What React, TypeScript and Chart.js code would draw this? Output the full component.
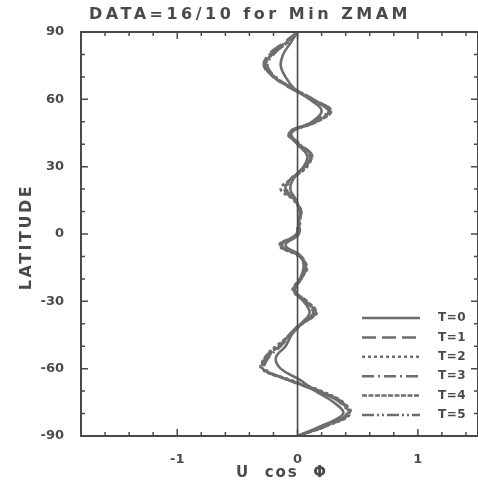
import React, { useEffect, useRef } from 'react';
import { Chart, registerables } from 'chart.js';

Chart.register(...registerables);

const latitudes = [90, 85, 80, 75, 70, 65, 60, 55, 50, 45, 40, 35, 30, 25, 20, 15, 10, 5, 0, -5, -10, -15, -20, -25, -30, -35, -40, -45, -50, -55, -60, -65, -70, -75, -80, -85, -90];

const t0 = [0, -0.06, -0.12, -0.14, -0.10, -0.03, 0.10, 0.20, 0.12, -0.05, 0.00, 0.08, 0.05, -0.03, -0.06, -0.01, 0.02, 0.01, 0.01, -0.10, 0.03, 0.05, 0.02, -0.02, 0.05, 0.10, 0.03, -0.05, -0.10, -0.18, -0.14, 0.02, 0.15, 0.30, 0.38, 0.22, 0];
const t1 = [0, -0.12, -0.24, -0.28, -0.20, -0.06, 0.12, 0.26, 0.15, -0.08, 0.02, 0.12, 0.06, -0.05, -0.10, -0.02, 0.03, 0.00, -0.01, -0.14, 0.02, 0.07, 0.03, -0.03, 0.07, 0.14, 0.02, -0.07, -0.15, -0.25, -0.28, -0.08, 0.16, 0.36, 0.42, 0.26, 0];
const t2 = [0, -0.11, -0.22, -0.26, -0.19, -0.04, 0.13, 0.27, 0.14, -0.06, 0.01, 0.11, 0.08, -0.04, -0.14, -0.03, 0.02, 0.02, 0.00, -0.15, 0.01, 0.08, 0.02, -0.04, 0.06, 0.16, 0.04, -0.06, -0.18, -0.27, -0.30, -0.06, 0.20, 0.38, 0.44, 0.27, 0];
const t3 = [0, -0.10, -0.20, -0.25, -0.18, -0.05, 0.11, 0.25, 0.13, -0.07, 0.00, 0.10, 0.07, -0.03, -0.09, -0.02, 0.03, 0.01, 0.00, -0.13, 0.02, 0.06, 0.03, -0.02, 0.05, 0.13, 0.03, -0.06, -0.14, -0.24, -0.27, -0.07, 0.17, 0.35, 0.41, 0.25, 0];
const t4 = [0, -0.09, -0.21, -0.27, -0.20, -0.05, 0.12, 0.28, 0.16, -0.07, 0.01, 0.12, 0.06, -0.04, -0.10, -0.02, 0.02, 0.01, 0.01, -0.14, 0.03, 0.07, 0.02, -0.03, 0.08, 0.15, 0.04, -0.07, -0.16, -0.26, -0.29, -0.08, 0.18, 0.37, 0.43, 0.26, 0];
const t5 = [0, -0.10, -0.23, -0.27, -0.19, -0.04, 0.13, 0.26, 0.15, -0.06, 0.02, 0.11, 0.07, -0.04, -0.11, -0.03, 0.02, 0.01, 0.00, -0.15, 0.02, 0.07, 0.03, -0.03, 0.06, 0.15, 0.03, -0.06, -0.17, -0.27, -0.29, -0.07, 0.19, 0.37, 0.42, 0.26, 0];

const seriesValues = [t0, t1, t2, t3, t4, t5];
const seriesLabels = ['T=0', 'T=1', 'T=2', 'T=3', 'T=4', 'T=5'];
const seriesDashes: number[][] = [[], [14, 6], [3, 3], [12, 4, 2, 4], [5, 1.5], [12, 3, 2, 3, 2, 3]];

const xMajorTicks = [-1, 0, 1];
const yMajorTicks = [-90, -60, -30, 0, 30, 60, 90];
const xMin = -1.8;
const xMax = 1.5;
const yMin = -90;
const yMax = 90;

const titleText = 'DATA=16/10 for Min ZMAM';
const xTitleText = 'U  cos  Φ';
const yTitleText = 'LATITUDE';

const INK = '#4a4a4a';
const LINE = '#6e6e6e';
const FONT = '"DejaVu Sans", "Liberation Sans", sans-serif';

const decorPlugin = {
  id: 'decor',
  afterDraw(chart: any) {
    const { ctx, chartArea, scales } = chart;
    const xs = scales.x;
    const ys = scales.y;
    const { left, right, top, bottom } = chartArea;
    ctx.save();
    ctx.strokeStyle = INK;
    ctx.lineWidth = 2;
    ctx.setLineDash([]);
    ctx.strokeRect(left, top, right - left, bottom - top);

    // zero line
    const x0 = xs.getPixelForValue(0);
    ctx.lineWidth = 1.6;
    ctx.beginPath();
    ctx.moveTo(x0, top);
    ctx.lineTo(x0, bottom);
    ctx.stroke();

    // x ticks
    ctx.lineWidth = 1.5;
    for (let i = -9; i <= 7; i++) {
      const v = i * 0.2;
      const px = xs.getPixelForValue(v);
      const major = i % 5 === 0;
      const len = major ? 7 : 4;
      ctx.beginPath();
      ctx.moveTo(px, bottom);
      ctx.lineTo(px, bottom - len);
      ctx.moveTo(px, top);
      ctx.lineTo(px, top + len);
      ctx.stroke();
    }
    // y ticks
    for (let v = -90; v <= 90; v += 10) {
      const py = ys.getPixelForValue(v);
      const major = v % 30 === 0;
      const len = major ? 7 : 4;
      ctx.beginPath();
      ctx.moveTo(left, py);
      ctx.lineTo(left + len, py);
      ctx.moveTo(right, py);
      ctx.lineTo(right - len, py);
      ctx.stroke();
    }

    // legend
    const legendX1 = 362;
    const legendX2 = 420;
    const legendTextX = 438;
    const legendY0 = 318;
    const legendStep = 19.4;
    ctx.font = `bold 12px ${FONT}`;
    ctx.textBaseline = 'middle';
    ctx.textAlign = 'left';
    (ctx as any).letterSpacing = '0.5px';
    chart.data.datasets.forEach((ds: any, i: number) => {
      const y = legendY0 + i * legendStep;
      ctx.strokeStyle = LINE;
      ctx.lineWidth = 2.5;
      ctx.setLineDash(ds.borderDash || []);
      ctx.beginPath();
      ctx.moveTo(legendX1, y);
      ctx.lineTo(legendX2, y);
      ctx.stroke();
      ctx.setLineDash([]);
      ctx.fillStyle = INK;
      ctx.fillText(ds.label, legendTextX, y);
    });

    // titles
    ctx.fillStyle = INK;
    ctx.textAlign = 'center';
    ctx.font = `bold 16px ${FONT}`;
    (ctx as any).letterSpacing = '3.5px';
    ctx.fillText(titleText, 250, 15);
    ctx.font = `bold 15px ${FONT}`;
    (ctx as any).letterSpacing = '2px';
    ctx.fillText(xTitleText, 282, 473);
    ctx.translate(27, 237);
    ctx.rotate(-Math.PI / 2);
    ctx.font = `bold 16px ${FONT}`;
    (ctx as any).letterSpacing = '2.5px';
    ctx.fillText(yTitleText, 0, 0);
    ctx.restore();
  },
};

export default function App() {
  const canvasRef = useRef<HTMLCanvasElement | null>(null);

  useEffect(() => {
    document.body.style.margin = '0';
    const canvas = canvasRef.current;
    if (!canvas) return;
    const datasets = seriesValues.map((vals, i) => ({
      label: seriesLabels[i],
      data: vals.map((x, j) => ({ x, y: latitudes[j] })),
      showLine: true,
      borderColor: LINE,
      backgroundColor: LINE,
      borderWidth: 2.6,
      borderDash: seriesDashes[i],
      pointRadius: 0,
      tension: 0.4,
      fill: false,
    }));
    const chart = new Chart(canvas, {
      type: 'scatter',
      data: { datasets },
      options: {
        animation: false,
        responsive: false,
        maintainAspectRatio: false,
        layout: { padding: { top: 32, right: 0, bottom: 0, left: 0 } },
        plugins: {
          legend: { display: false },
          tooltip: { enabled: false },
          title: { display: false },
        },
        scales: {
          x: {
            type: 'linear',
            min: xMin,
            max: xMax,
            grid: { display: false },
            border: { display: false },
            afterBuildTicks: (s: any) => {
              s.ticks = xMajorTicks.map((v) => ({ value: v }));
            },
            afterFit: (s: any) => {
              s.height = 48;
            },
            ticks: {
              color: INK,
              font: { family: FONT, size: 13, weight: 'bold' },
              padding: 8,
              maxRotation: 0,
              callback: (v: any) => String(v),
            },
          },
          y: {
            type: 'linear',
            min: yMin,
            max: yMax,
            grid: { display: false },
            border: { display: false },
            afterBuildTicks: (s: any) => {
              s.ticks = yMajorTicks.map((v) => ({ value: v }));
            },
            afterFit: (s: any) => {
              s.width = 81;
            },
            ticks: {
              color: INK,
              font: { family: FONT, size: 13, weight: 'bold' },
              padding: 9,
              callback: (v: any) => String(v),
            },
          },
        },
      },
      plugins: [decorPlugin],
    } as any);
    return () => chart.destroy();
  }, []);

  return (
    <div style={{ width: 478, height: 484 }}>
      <canvas ref={canvasRef} width={478} height={484} style={{ width: 478, height: 484, display: 'block' }} />
    </div>
  );
}
